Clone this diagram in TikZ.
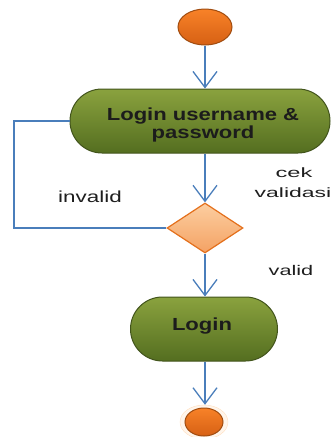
\documentclass[tikz,border=0pt]{standalone}
\usepackage{fontspec}
\setmainfont{Liberation Sans}
\usetikzlibrary{shapes.geometric,shapes.misc,arrows.meta}
\definecolor{flow}{RGB}{74,126,187}
\definecolor{gtop}{RGB}{138,162,62}
\definecolor{gbot}{RGB}{84,110,32}
\definecolor{gline}{RGB}{66,84,28}
\definecolor{otop}{RGB}{248,130,40}
\definecolor{obot}{RGB}{214,96,20}
\definecolor{oline}{RGB}{160,76,16}
\definecolor{dtop}{RGB}{252,206,160}
\definecolor{dbot}{RGB}{244,162,100}
\definecolor{dline}{RGB}{228,112,28}
\definecolor{txt}{RGB}{28,28,28}
\definecolor{ltxt}{RGB}{30,30,30}
\tikzset{
  flowline/.style={draw=flow, line width=1.3pt},
  flowarrow/.style={flowline, -{Straight Barb[length=16pt,width=24pt,line width=1.3pt]}},
  actbox/.style={rounded rectangle, draw=gline, line width=1pt, top color=gtop, bottom color=gbot, inner sep=0pt, text=txt},
  startnode/.style={ellipse, draw=oline, line width=1pt, top color=otop, bottom color=obot, inner sep=0pt},
  decide/.style={diamond, draw=dline, line width=1.2pt, top color=dtop, bottom color=dbot, inner sep=0pt},
  lbl/.style={text=ltxt, inner sep=0pt}
}
\begin{document}
\begin{tikzpicture}[x=1pt,y=-1pt]
\useasboundingbox (0,0) rectangle (334,437);
\node[startnode, minimum width=54pt, minimum height=36pt] (start) at (205,27) {};
\node[actbox, minimum width=260pt, minimum height=64pt] (box1) at (200,121) {};
\node[text=txt, inner sep=0pt, font=\fontsize{17.5}{19}\bfseries\selectfont] (t1) at (203,126)
  {\scalebox{1.26}[1]{\begin{tabular}{@{}c@{}}Login username \&\\[-1pt]password\end{tabular}}};
\node[decide, minimum width=76pt, minimum height=50pt] (dec) at (205,228) {};
\node[actbox, minimum width=147pt, minimum height=64pt] (box2) at (204,329) {};
\node[text=txt, inner sep=0pt, font=\fontsize{17.5}{19}\bfseries\selectfont] (t2) at (202,326) {\scalebox{1.26}[1]{Login}};
\node[ellipse, draw=orange!25, fill=orange!8, minimum width=48pt, minimum height=34pt, inner sep=0pt] (halo) at (204,422) {};
\node[startnode, minimum width=38pt, minimum height=28pt] (end) at (204,422) {};
\node[lbl, font=\fontsize{13.5}{15}\selectfont] (cek) at (294,173) {\scalebox{1.75}[1]{cek}};
\node[lbl, font=\fontsize{13.5}{15}\selectfont] (val) at (293,193) {\scalebox{1.7}[1]{validasi}};
\node[lbl, font=\fontsize{16}{18}\selectfont] (inv) at (90,197) {\scalebox{1.4}[1]{invalid}};
\node[lbl, font=\fontsize{14}{16}\selectfont] (valid) at (291,270) {\scalebox{1.55}[1]{valid}};
\coordinate (c1) at (14,228);
\coordinate (c2) at (14,121);
\draw[flowarrow] (start.south) -- (box1.north -| start.south);
\draw[flowarrow] (box1.south -| dec.north) -- (dec.north);
\draw[flowarrow] (dec.south) -- (box2.north -| dec.south);
\draw[flowarrow] (box2.south -| dec.south) -- (halo.north -| dec.south);
\draw[flowline] (dec.west) -- (c1) -- (c2) -- (box1.west);
\end{tikzpicture}
\end{document}
